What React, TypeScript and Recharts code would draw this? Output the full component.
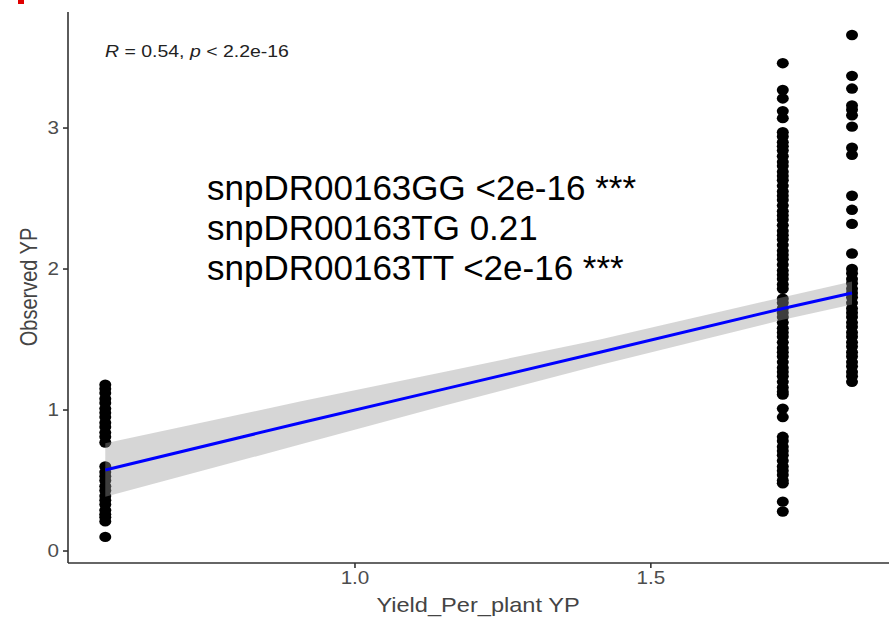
import { ComposedChart, Scatter, Line, Area, XAxis, YAxis } from "recharts";

// predicted YP of each genotype group (x position of each column)
const GROUP_X = [0.578, 1.723, 1.84];

// observed YP per group
const lowGroupYP = [
  1.18, 1.15, 1.12, 1.08, 1.05, 1.01, 0.98, 0.95, 0.91, 0.88, 0.84, 0.81, 0.77,
  0.6, 0.56, 0.53, 0.5, 0.46, 0.43, 0.39, 0.36, 0.33, 0.29, 0.26, 0.24, 0.21,
  0.1,
];
const midGroupYP = [
  3.46, 3.27, 3.21, 3.12, 3.07, 2.97, 2.94, 2.9, 2.87, 2.84, 2.8, 2.76, 2.73,
  2.69, 2.66, 2.63, 2.59, 2.55, 2.52, 2.49, 2.45, 2.41, 2.38, 2.35, 2.31, 2.27,
  2.24, 2.21, 2.17, 2.13, 2.1, 2.07, 2.03, 1.99, 1.96, 1.93, 1.89, 1.86, 1.79,
  1.76, 1.72, 1.69, 1.66, 1.62, 1.58, 1.55, 1.52, 1.48, 1.44, 1.41, 1.38, 1.34,
  1.3, 1.27, 1.24, 1.2, 1.16, 1.13, 1.11, 1.01, 0.95, 0.81, 0.78, 0.74, 0.71,
  0.68, 0.64, 0.6, 0.57, 0.54, 0.5, 0.48, 0.35, 0.28,
];
const highGroupYP = [
  3.66, 3.37, 3.28, 3.16, 3.13, 3.09, 3.01, 2.86, 2.81, 2.52, 2.42, 2.32, 2.11,
  2.0, 1.97, 1.93, 1.9, 1.86, 1.83, 1.8, 1.76, 1.72, 1.69, 1.66, 1.62, 1.59,
  1.55, 1.52, 1.48, 1.45, 1.41, 1.38, 1.34, 1.31, 1.27, 1.24, 1.2,
];

// linear fit and its confidence band
const fitX = [0.578, 0.907, 1.15, 1.414, 1.723, 1.84];
const fitY = [0.575, 0.908, 1.148, 1.41, 1.72, 1.83];
const bandLow = [0.385, 0.755, 1.03, 1.32, 1.64, 1.748];
const bandHigh = [0.765, 1.06, 1.27, 1.5, 1.8, 1.912];

const xTicks = [1.0, 1.5];
const yTicks = [0, 1, 2, 3];

const annotation = [
  "snpDR00163GG <2e-16 ***",
  "snpDR00163TG 0.21",
  "snpDR00163TT <2e-16 ***",
];

const points = [lowGroupYP, midGroupYP, highGroupYP].flatMap((ys, g) =>
  ys.map((y) => ({ x: GROUP_X[g], y }))
);
const fitRows = fitX.map((x, i) => ({
  x,
  fit: fitY[i],
  band: [bandLow[i], bandHigh[i]],
}));

const SX = 1.18; // plot text is a little wider than tall
const FONT = "'Liberation Sans', Arial, sans-serif";

const Dot = (props: any) => (
  <ellipse cx={props.cx} cy={props.cy} rx={6} ry={5.2} fill="#000" />
);

const YTick = ({ x, y, payload }: any) => (
  <text
    transform={`translate(${x},${y}) scale(${SX},1)`}
    textAnchor="end"
    dy="0.36em"
    fontSize={17.5}
    fontFamily={FONT}
    fill="#4d4d4d"
  >
    {payload.value}
  </text>
);

const XTick = ({ x, y, payload }: any) => (
  <text
    transform={`translate(${x},${y}) scale(${SX},1)`}
    textAnchor="middle"
    dy="0.75em"
    fontSize={17.5}
    fontFamily={FONT}
    fill="#4d4d4d"
  >
    {Number(payload.value).toFixed(1)}
  </text>
);

export default function App() {
  return (
    <div
      style={{
        position: "absolute",
        left: 0,
        top: 0,
        width: 889,
        height: 617,
        background: "#fff",
        overflow: "hidden",
      }}
    >
      <div
        style={{
          position: "absolute",
          left: 18,
          top: 0,
          width: 6,
          height: 4,
          background: "#e00000",
        }}
      />
      <ComposedChart
        width={889}
        height={617}
        data={fitRows}
        margin={{ top: 12, right: 0, bottom: 0, left: 8 }}
      >
        <XAxis
          type="number"
          dataKey="x"
          domain={[0.515, 1.9025]}
          allowDataOverflow
          ticks={xTicks}
          height={54}
          tickSize={5}
          tickMargin={3}
          axisLine={{ stroke: "#333", strokeWidth: 1.6 }}
          tickLine={{ stroke: "#333", strokeWidth: 1.6 }}
          tick={<XTick />}
        />
        <YAxis
          type="number"
          domain={[-0.085, 3.823]}
          allowDataOverflow
          ticks={yTicks}
          width={60}
          tickSize={5}
          tickMargin={4}
          axisLine={{ stroke: "#333", strokeWidth: 1.6 }}
          tickLine={{ stroke: "#333", strokeWidth: 1.6 }}
          tick={<YTick />}
        />
        {/* points sit under the band and the fit line */}
        <Scatter
          data={points}
          dataKey="y"
          shape={<Dot />}
          zIndex={50}
          isAnimationActive={false}
        />
        <Area
          dataKey="band"
          type="linear"
          stroke="none"
          fill="#999999"
          fillOpacity={0.4}
          zIndex={100}
          isAnimationActive={false}
        />
        <Line
          dataKey="fit"
          type="linear"
          stroke="#0000ff"
          strokeWidth={3}
          dot={false}
          zIndex={400}
          isAnimationActive={false}
        />
      </ComposedChart>
      <svg
        width={889}
        height={617}
        style={{ position: "absolute", left: 0, top: 0, pointerEvents: "none" }}
      >
        <text
          transform={`translate(29,287) scale(${SX},1) rotate(-90)`}
          textAnchor="middle"
          dy="0.35em"
          fontSize={20}
          fontFamily={FONT}
          fill="#444"
        >
          Observed YP
        </text>
        <text
          transform={`translate(478,612) scale(${SX},1)`}
          textAnchor="middle"
          fontSize={20}
          fontFamily={FONT}
          fill="#444"
        >
          Yield_Per_plant YP
        </text>
        <text
          transform={`translate(105,57) scale(${SX},1)`}
          fontSize={16.5}
          fontFamily={FONT}
          fill="#222"
        >
          <tspan fontStyle="italic">R</tspan>
          <tspan> = 0.54, </tspan>
          <tspan fontStyle="italic">p</tspan>
          <tspan> {"<"} 2.2e-16</tspan>
        </text>
        {annotation.map((line, i) => (
          <text
            key={line}
            x={207}
            y={200 + i * 40}
            fontSize={35}
            fontFamily={FONT}
            fill="#000"
          >
            {line}
          </text>
        ))}
      </svg>
    </div>
  );
}
